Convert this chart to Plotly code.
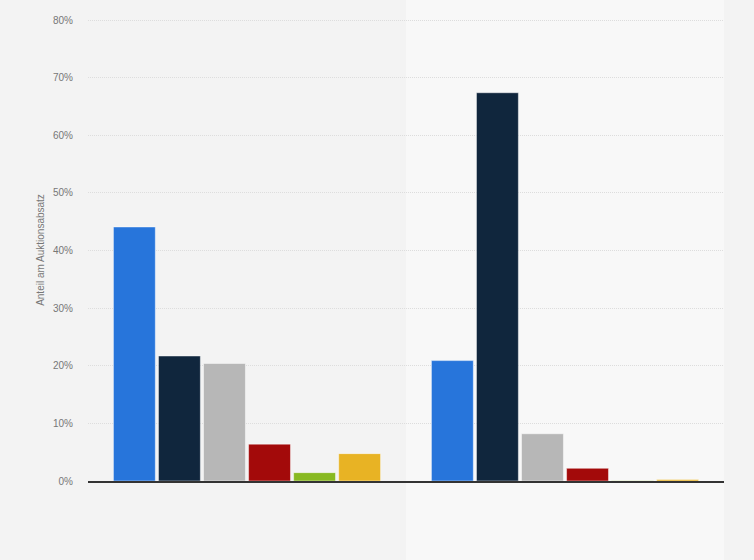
"""Grouped bar chart: Anteil am Auktionsabsatz."""

import plotly.graph_objects as go

categories = ['Gruppe A', 'Gruppe B']
series_names = ['Serie 1', 'Serie 2', 'Serie 3', 'Serie 4', 'Serie 5', 'Serie 6']
series_values = [
    [44.1, 20.9],
    [21.7, 67.4],
    [20.4, 8.2],
    [6.4, 2.2],
    [1.45, 0.05],
    [4.75, 0.25],
]
series_colors = ['#2775db', '#10263d', '#b7b7b7', '#a30a0a', '#88b921', '#e8b324']
y_ticks = [0, 10, 20, 30, 40, 50, 60, 70, 80]

fig = go.Figure()
for name, vals, col in zip(series_names, series_values, series_colors):
    fig.add_trace(go.Bar(
        x=categories,
        y=vals,
        name=name,
        marker=dict(color=col, line=dict(color='rgba(255,255,255,0.45)', width=1)),
    ))

# lighter band behind the second group
fig.add_shape(
    type='rect', xref='x', yref='paper',
    x0=0.5, x1=1.5, y0=-0.3, y1=1.1,
    fillcolor='#f8f8f8', line=dict(width=0), layer='below',
)

fig.update_layout(
    width=754,
    height=560,
    barmode='group',
    bargap=0.15,
    bargroupgap=0.07,
    showlegend=False,
    paper_bgcolor='#f3f3f3',
    plot_bgcolor='#f3f3f3',
    margin=dict(l=88, r=30, t=19, b=79),
    font=dict(family='Arial, Liberation Sans, sans-serif', size=10, color='#777777'),
)
fig.update_xaxes(
    showticklabels=False,
    showgrid=False,
    showline=True,
    linecolor='#333333',
    linewidth=1.5,
    range=[-0.5, 1.5],
)
fig.update_yaxes(
    range=[0, 80.2],  # a little headroom so the 80% gridline shows
    tickvals=y_ticks,
    ticktext=[f'{v}%' for v in y_ticks],
    showgrid=True,
    gridcolor='#dddddd',
    griddash='1px,1px',
    gridwidth=1,
    zeroline=False,
    ticklabelstandoff=14,
    title=dict(text='Anteil am Auktionsabsatz', standoff=6, font=dict(size=10, color='#777777')),
)

# drop the default body margin so the figure fills the window
fig.write_html(
    'out.html',
    config={'displayModeBar': False},
    post_script="document.body.style.margin='0';",
)
